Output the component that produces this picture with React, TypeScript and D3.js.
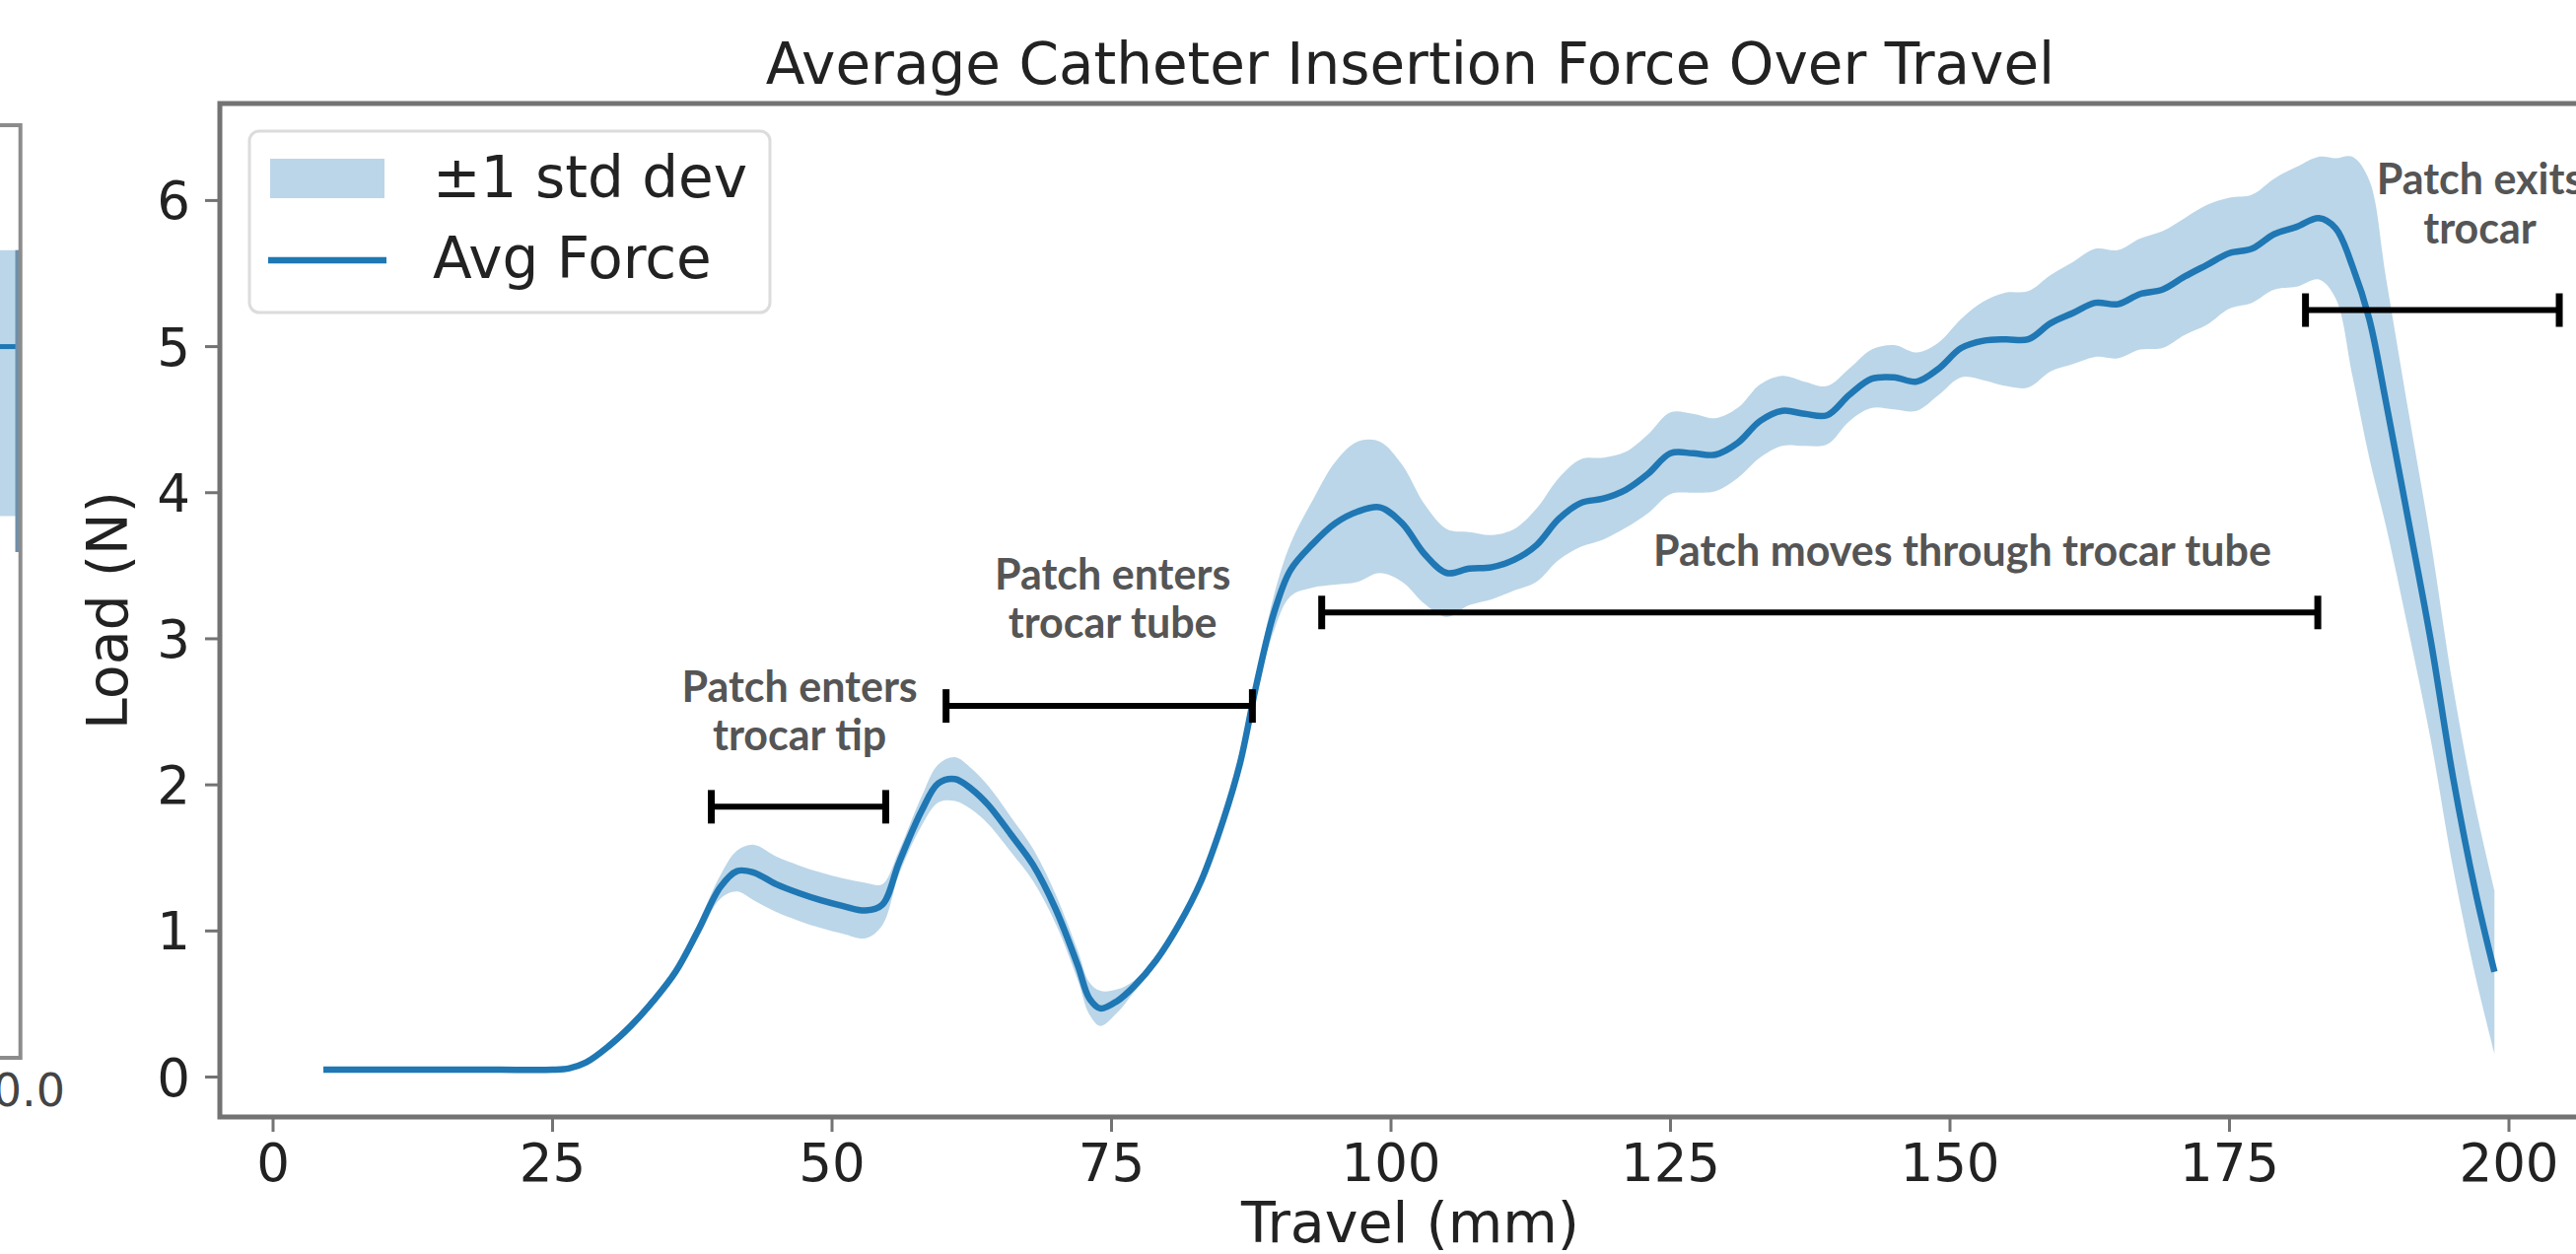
import React from "react";
import * as d3 from "d3";

const width = 2613;
const height = 1272;
const frame = { left: 223, right: 2638, top: 105, bottom: 1133 };

// travel (mm), mean load (N) and 1 std dev
const travel = [
  4.5, 10, 15, 20, 25, 26.5, 28, 30, 32, 34, 36, 38, 40, 41.5, 43, 45, 47, 49, 51, 53, 54.5,
  56, 58, 59.5, 61, 62.5, 64, 66, 68, 70, 72, 73, 74, 75.5, 77, 79, 81, 83, 85, 86.5, 88, 89.5,
  91, 93, 95, 97, 99, 101, 103, 105, 107, 109, 111, 113, 115, 117, 119, 121, 123, 125, 127, 129,
  131, 133, 135, 137, 139, 141, 143, 145, 147, 149, 151, 153, 155, 157, 159, 161, 163, 165, 167,
  169, 171, 173, 175, 177, 179, 181, 183, 184.5, 186, 187.5, 189, 191, 193, 195, 197, 198.7
];
const avgForce = [
  0.05, 0.05, 0.05, 0.05, 0.05, 0.06, 0.1, 0.21, 0.35, 0.52, 0.72, 1.0, 1.3, 1.41, 1.4, 1.32, 1.26,
  1.21, 1.17, 1.14, 1.18, 1.47, 1.82, 2.01, 2.04, 1.97, 1.86, 1.66, 1.45, 1.15, 0.76, 0.54, 0.47,
  0.52, 0.62, 0.8, 1.04, 1.34, 1.76, 2.15, 2.7, 3.17, 3.47, 3.65, 3.79, 3.87, 3.9, 3.79, 3.58, 3.45,
  3.48, 3.49, 3.54, 3.64, 3.82, 3.93, 3.96, 4.02, 4.13, 4.27, 4.27, 4.26, 4.34, 4.49, 4.56, 4.54,
  4.53, 4.67, 4.78, 4.79, 4.76, 4.85, 4.99, 5.04, 5.05, 5.05, 5.16, 5.23, 5.3, 5.29, 5.36, 5.39,
  5.48, 5.56, 5.64, 5.67, 5.77, 5.82, 5.88, 5.81, 5.55, 5.19, 4.62, 3.81, 2.99, 2.05, 1.27, 0.72
];
const stdDev = [
  0.01, 0.01, 0.01, 0.01, 0.01, 0.01, 0.01, 0.015, 0.02, 0.03, 0.04, 0.05, 0.08, 0.14, 0.19, 0.19,
  0.19, 0.19, 0.19, 0.19, 0.14, 0.08, 0.1, 0.13, 0.15, 0.14, 0.13, 0.12, 0.11, 0.1, 0.1, 0.11, 0.12,
  0.08, 0.04, 0.03, 0.02, 0.02, 0.02, 0.03, 0.06, 0.12, 0.18, 0.3, 0.42, 0.48, 0.45, 0.4, 0.34, 0.3,
  0.25, 0.22, 0.21, 0.25, 0.28, 0.3, 0.28, 0.26, 0.27, 0.28, 0.27, 0.25, 0.24, 0.25, 0.24, 0.22,
  0.2, 0.18, 0.2, 0.22, 0.2, 0.18, 0.2, 0.27, 0.32, 0.33, 0.33, 0.35, 0.37, 0.37, 0.38, 0.4, 0.4,
  0.41, 0.38, 0.37, 0.38, 0.41, 0.42, 0.48, 0.75, 0.95, 0.85, 0.75, 0.68, 0.62, 0.58, 0.56
];

const xTicks = [0, 25, 50, 75, 100, 125, 150, 175, 200];
const yTicks = [0, 1, 2, 3, 4, 5, 6];

// phase brackets: span in mm, height in N, label anchor (centre, first baseline)
const phaseLabels = [
  ["Patch enters", "trocar tip"],
  ["Patch enters", "trocar tube"],
  ["Patch moves through trocar tube"],
  ["Patch exits", "trocar"]
];
const phaseStart = [39.2, 60.2, 93.8, 181.8];
const phaseEnd = [54.8, 87.6, 182.9, 204.5];
const phaseLevel = [1.85, 2.54, 3.18, 5.25];
const labelX = [47.1, 75.1, 151.1, 197.4];
const labelY = [2.57, 3.34, 3.5, 6.04];

// piece of the neighbouring panel that is cut off at the left edge
const neighbour = { mean: 5.0, lo: 3.84, hi: 5.66 };

const blue = "#1f77b4";
const spine = "#737373";
const mpl = "DejaVu Sans, sans-serif";

export default function App() {
  const x = d3.scaleLinear().domain([0, 200]).range([277, 2545]);
  const y = d3.scaleLinear().domain([0, 6]).range([1092.5, 203.4]);

  const pts = travel.map((t, i) => ({ t, m: avgForce[i], s: stdDev[i] }));
  const curve = d3.curveCatmullRom.alpha(0.5);
  const band = d3
    .area<any>()
    .x(d => x(d.t))
    .y0(d => y(d.m - d.s))
    .y1(d => y(d.m + d.s))
    .curve(curve)(pts);
  const line = d3
    .line<any>()
    .x(d => x(d.t))
    .y(d => y(d.m))
    .curve(curve)(pts);

  return (
    <div style={{ position: "absolute", left: 0, top: 0 }}>
      <svg width={width} height={height} style={{ display: "block", background: "#fff" }}>
        {/* neighbouring panel sliver */}
        <rect x={0} y={y(neighbour.hi)} width={20} height={y(neighbour.lo) - y(neighbour.hi)} fill={blue} fillOpacity={0.3} />
        <line x1={0} x2={20} y1={y(neighbour.mean)} y2={y(neighbour.mean)} stroke={blue} strokeWidth={5} />
        <line x1={18} x2={18} y1={y(neighbour.hi)} y2={560} stroke="#6f8fab" strokeWidth={5} />
        <path d="M0,127 H20.7 V1073 H0" fill="none" stroke="#8c8c8c" strokeWidth={4} />
        <text x={66} y={1122} fontFamily={mpl} fontSize={46} fill="#444" textAnchor="end">0.0</text>

        <text x={(frame.left + frame.right) / 2} y={85} fontFamily={mpl} fontSize={58} fill="#222" textAnchor="middle">
          Average Catheter Insertion Force Over Travel
        </text>

        <path d={band || ""} fill={blue} fillOpacity={0.3} stroke="none" />
        <path d={line || ""} fill="none" stroke={blue} strokeWidth={6.5} strokeLinejoin="round" />

        {/* phase brackets */}
        {phaseStart.map((s, i) => {
          const x0 = x(s);
          const x1 = x(phaseEnd[i]);
          const yy = y(phaseLevel[i]);
          return (
            <g key={i}>
              <line x1={x0} x2={x1} y1={yy} y2={yy} stroke="#000" strokeWidth={6} />
              <line x1={x0} x2={x0} y1={yy - 17} y2={yy + 17} stroke="#000" strokeWidth={7} />
              <line x1={x1} x2={x1} y1={yy - 17} y2={yy + 17} stroke="#000" strokeWidth={7} />
              <text x={x(labelX[i])} y={y(labelY[i])} fontFamily="Lato, sans-serif" fontWeight={700} fontSize={43} fill="#555" textAnchor="middle">
                {phaseLabels[i].map((l, j) => (
                  <tspan key={j} x={x(labelX[i])} dy={j === 0 ? 0 : 49.5}>{l}</tspan>
                ))}
              </text>
            </g>
          );
        })}

        {/* spines */}
        <path
          d={`M${frame.right},${frame.top} H${frame.left} V${frame.bottom} H${frame.right}`}
          fill="none"
          stroke={spine}
          strokeWidth={5}
        />

        {/* y axis */}
        {yTicks.map(t => (
          <g key={t}>
            <line x1={frame.left - 15} x2={frame.left} y1={y(t)} y2={y(t)} stroke={spine} strokeWidth={3} />
            <text x={193} y={y(t) + 19} fontFamily={mpl} fontSize={53} fill="#222" textAnchor="end">{t}</text>
          </g>
        ))}
        <text
          transform={`translate(129,${(frame.top + frame.bottom) / 2}) rotate(-90)`}
          fontFamily={mpl}
          fontSize={57}
          fill="#222"
          textAnchor="middle"
        >
          Load (N)
        </text>

        {/* x axis */}
        {xTicks.map(t => (
          <g key={t}>
            <line x1={x(t)} x2={x(t)} y1={frame.bottom} y2={frame.bottom + 15} stroke={spine} strokeWidth={3} />
            <text x={x(t)} y={1198} fontFamily={mpl} fontSize={53} fill="#222" textAnchor="middle">{t}</text>
          </g>
        ))}
        <text x={(frame.left + frame.right) / 2} y={1260} fontFamily={mpl} fontSize={57} fill="#222" textAnchor="middle">
          Travel (mm)
        </text>

        {/* legend */}
        <rect x={253} y={133} width={528} height={184} rx={10} fill="#fff" fillOpacity={0.8} stroke="#dcdcdc" strokeWidth={3} />
        <rect x={274} y={161} width={116} height={40} fill={blue} fillOpacity={0.3} />
        <line x1={272} x2={392} y1={264} y2={264} stroke={blue} strokeWidth={6.5} />
        <text x={439} y={200} fontFamily={mpl} fontSize={58} fill="#222">±1 std dev</text>
        <text x={439} y={282} fontFamily={mpl} fontSize={58} fill="#222">Avg Force</text>
      </svg>
    </div>
  );
}
